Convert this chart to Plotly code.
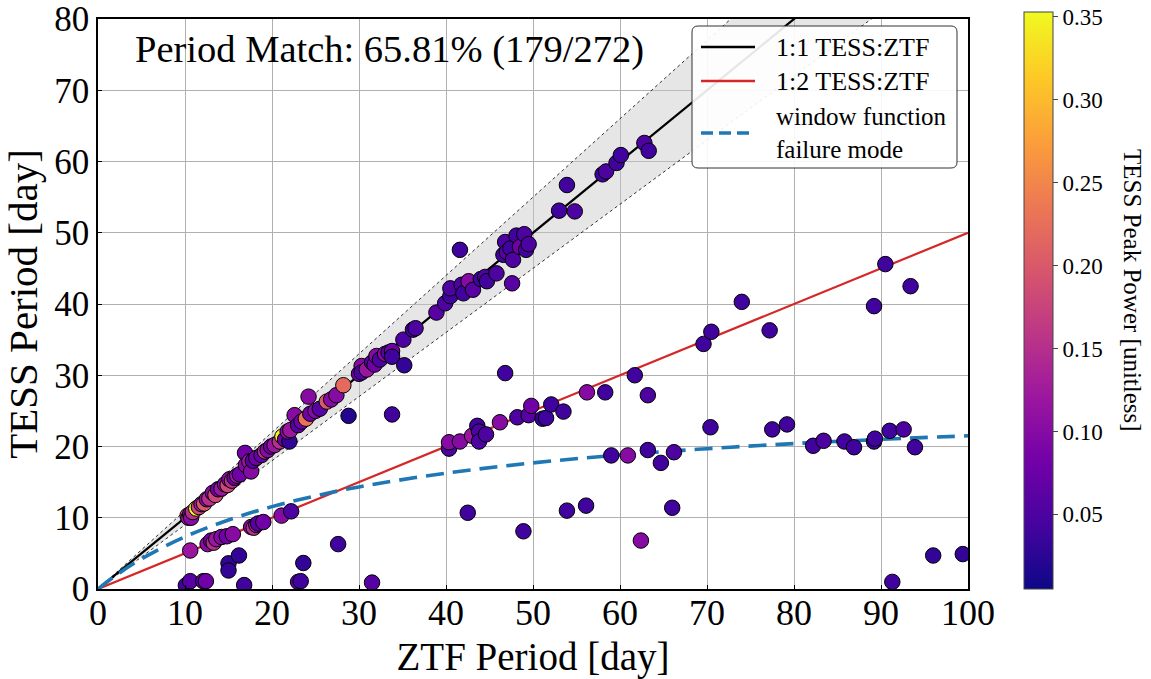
import plotly.graph_objects as go

# ---------------- data ----------------
# points near the 1:1 relation
ztf_11 = [10.3, 10.4, 10.6, 10.7, 10.9, 11.3, 11.6, 11.9, 12.2, 12.5, 12.8, 13.2, 13.5, 13.8, 14.2,
          14.6, 14.9, 15.1, 15.4, 15.7, 16.0, 16.3, 16.9, 17.0, 17.4, 17.6, 17.8, 18.2, 18.8, 19.2,
          19.5, 19.9, 20.3, 20.9, 21.2, 21.5, 22.0, 21.8, 22.1, 22.6, 23.0, 23.4, 23.9, 24.2, 24.4,
          25.0, 25.5, 26.3, 26.8, 27.4, 28.2, 28.8, 30.0, 30.3, 30.3, 30.9, 31.5, 31.8, 32.0, 32.4,
          33.0, 33.4, 33.8, 33.8, 35.1, 35.2, 36.2, 36.5, 38.9, 39.9, 40.5, 40.5, 41.6, 41.8, 42.0,
          42.6, 43.1, 44.0, 44.5, 44.7, 45.8, 46.6, 46.8, 47.0, 47.4, 47.6, 47.7, 48.1, 48.5, 49.0,
          49.2, 49.5, 53.0, 53.9, 54.8, 58.0, 58.4, 59.6, 60.1, 62.8, 63.3]
tess_11 = [10.3, 10.0, 10.5, 10.0, 10.8, 11.3, 11.5, 11.9, 12.0, 12.6, 12.7, 13.5, 13.2, 14.0, 14.1,
           14.7, 14.6, 15.4, 15.2, 15.6, 15.9, 16.1, 19.1, 17.4, 17.9, 16.5, 18.0, 18.4, 18.8, 19.3,
           19.5, 20.0, 20.2, 20.7, 21.4, 21.0, 20.7, 22.1, 22.3, 24.4, 23.0, 23.5, 23.9, 27.0, 24.6,
           25.0, 25.3, 26.3, 26.6, 27.2, 28.6, 24.3, 30.2, 31.3, 30.4, 30.8, 31.8, 31.5, 32.7, 32.2,
           33.0, 33.2, 33.4, 32.6, 35.0, 31.4, 36.4, 36.6, 38.8, 40.1, 41.1, 42.2, 47.6, 42.7, 41.5,
           43.2, 42.0, 43.5, 43.8, 43.2, 44.3, 46.9, 48.7, 47.3, 47.8, 42.9, 46.2, 49.6, 48.0, 49.8,
           47.6, 48.4, 53.1, 56.7, 53.0, 58.2, 58.6, 59.8, 60.9, 62.6, 61.5]
pow_11 = [0.20, 0.12, 0.10, 0.10, 0.15, 0.35, 0.18, 0.12, 0.20, 0.10, 0.15, 0.10, 0.18, 0.08, 0.12,
          0.10, 0.18, 0.10, 0.15, 0.08, 0.12, 0.08, 0.08, 0.10, 0.12, 0.10, 0.06, 0.08, 0.07, 0.15,
          0.10, 0.08, 0.12, 0.15, 0.35, 0.08, 0.03, 0.10, 0.12, 0.10, 0.06, 0.08, 0.23, 0.10, 0.08,
          0.10, 0.06, 0.20, 0.10, 0.10, 0.22, 0.02, 0.08, 0.10, 0.05, 0.12, 0.06, 0.08, 0.10, 0.05,
          0.10, 0.06, 0.08, 0.04, 0.05, 0.03, 0.04, 0.05, 0.06, 0.05, 0.04, 0.05, 0.04, 0.05, 0.04,
          0.10, 0.06, 0.04, 0.05, 0.04, 0.05, 0.04, 0.05, 0.06, 0.04, 0.06, 0.05, 0.04, 0.08, 0.05,
          0.04, 0.05, 0.04, 0.04, 0.05, 0.04, 0.05, 0.04, 0.04, 0.05, 0.04]

# points near the 1:2 relation, the window-function curve, and elsewhere
ztf_other = [10.6, 12.6, 13.0, 13.3, 13.6, 14.2, 14.8, 15.5, 17.6, 17.9, 18.2, 18.4, 19.0, 21.1, 22.2,
             40.35, 40.35, 41.6, 43.0, 43.6, 43.8, 43.8, 44.6, 46.2, 48.2, 49.5, 49.8, 51.1, 51.5, 52.1,
             53.5, 56.2, 58.3, 61.7, 63.2, 69.6, 70.5, 77.2, 74.0, 89.2, 90.5, 93.4, 46.8, 33.8,
             59.0, 60.9, 63.2, 64.7, 66.2, 70.4, 77.5, 79.2, 82.2, 83.4, 85.8, 86.9, 89.2, 89.3, 91.0,
             92.6, 93.9,
             42.5, 48.9, 53.9, 56.1, 62.4, 66.0, 91.3, 96.0, 99.4, 15.0, 15.0, 16.2, 23.6, 27.6, 10.1,
             10.6, 12.1, 12.4, 16.8, 23.0, 23.3, 31.5]
tess_other = [5.4, 6.3, 6.8, 6.5, 7.0, 7.3, 7.4, 7.7, 8.7, 8.6, 9.0, 9.2, 9.4, 10.3, 10.9,
              19.7, 20.6, 20.7, 21.5, 22.9, 22.1, 20.7, 21.7, 23.4, 24.1, 24.4, 25.7, 23.9, 24.0, 25.9,
              24.9, 27.6, 27.6, 30.0, 27.2, 34.4, 36.1, 36.3, 40.3, 39.7, 45.6, 42.5, 30.3, 24.5,
              18.75, 18.75, 19.5, 17.7, 19.2, 22.7, 22.4, 23.1, 20.1, 20.8, 20.7, 19.9, 20.7, 21.1, 22.2,
              22.4, 19.9,
              10.7, 8.1, 11.0, 11.7, 6.8, 11.4, 1.0, 4.7, 4.9, 3.6, 2.6, 4.7, 3.65, 6.3, 0.5,
              1.1, 1.1, 1.1, 0.55, 1.0, 1.1, 0.9]
pow_other = [0.12, 0.10, 0.08, 0.15, 0.12, 0.10, 0.08, 0.10, 0.10, 0.15, 0.12, 0.06, 0.08, 0.10, 0.05,
             0.05, 0.10, 0.10, 0.12, 0.04, 0.05, 0.05, 0.05, 0.10, 0.05, 0.06, 0.08, 0.03, 0.04, 0.04,
             0.04, 0.10, 0.04, 0.04, 0.05, 0.04, 0.04, 0.04, 0.04, 0.04, 0.04, 0.04, 0.04, 0.04,
             0.04, 0.10, 0.04, 0.04, 0.05, 0.04, 0.04, 0.04, 0.04, 0.05, 0.04, 0.04, 0.04, 0.04, 0.04,
             0.05, 0.04,
             0.04, 0.04, 0.04, 0.04, 0.10, 0.04, 0.04, 0.03, 0.03, 0.03, 0.03, 0.03, 0.03, 0.04, 0.04,
             0.06, 0.06, 0.08, 0.04, 0.06, 0.04, 0.06]

ztf_period = ztf_11 + ztf_other
tess_period = tess_11 + tess_other
tess_power = pow_11 + pow_other

# reference relations
line_x = [0, 100]
one_to_one_y = [0, 100]
one_to_two_y = [0, 50]
band_upper_y = [0, 110]
band_lower_y = [0, 90]

# window function failure mode curve
window_x = [0, 2, 5, 10, 15, 20, 25, 30, 40, 50, 60, 70, 80, 90, 100]
window_y = [0, 1.86, 4.23, 7.33, 9.69, 11.56, 13.07, 14.33, 16.26, 17.70, 18.81, 19.69, 20.41, 21.0, 21.5]

x_ticks = [0, 10, 20, 30, 40, 50, 60, 70, 80, 90, 100]
y_ticks = [0, 10, 20, 30, 40, 50, 60, 70, 80]
cbar_ticks = [0.05, 0.10, 0.15, 0.20, 0.25, 0.30, 0.35]
power_min, power_max = 0.005, 0.353

legend_labels = ["1:1 TESS:ZTF", "1:2 TESS:ZTF", "window function<br>failure mode"]

FONT = "Liberation Serif"
BLUE = "#1f77b4"
RED = "#d62728"

# plot-area geometry in px
M_L, M_R, M_T, M_B = 98, 183, 19, 90
PLOT_TOP, PLOT_BOTTOM = M_T, 679 - M_B
PW, PH = 1151.0 - M_L - M_R, float(PLOT_BOTTOM - PLOT_TOP)


def px_x(p):
    return (p - M_L) / PW


def px_y(p):
    return (PLOT_BOTTOM - p) / PH


fig = go.Figure()

# shaded band
fig.add_trace(go.Scatter(
    x=line_x + line_x[::-1], y=band_upper_y + band_lower_y[::-1],
    fill="toself", fillcolor="rgba(200,200,200,0.45)",
    line=dict(color="rgba(0,0,0,0)", width=0), mode="lines",
    showlegend=False, hoverinfo="skip"))
fig.add_trace(go.Scatter(x=line_x, y=band_upper_y, mode="lines",
                         line=dict(color="black", width=0.8, dash="dot"),
                         showlegend=False, hoverinfo="skip"))
fig.add_trace(go.Scatter(x=line_x, y=band_lower_y, mode="lines",
                         line=dict(color="black", width=0.8, dash="dot"),
                         showlegend=False, hoverinfo="skip"))

fig.add_trace(go.Scatter(x=line_x, y=one_to_one_y, mode="lines", showlegend=False,
                         line=dict(color="black", width=2.2), name="1:1 TESS:ZTF"))
fig.add_trace(go.Scatter(x=line_x, y=one_to_two_y, mode="lines", showlegend=False,
                         line=dict(color=RED, width=2.2), name="1:2 TESS:ZTF"))
fig.add_trace(go.Scatter(x=window_x, y=window_y, mode="lines", line_shape="spline",
                         showlegend=False,
                         line=dict(color=BLUE, width=3.6, dash="18px,9px"),
                         name="window function failure mode"))

fig.add_trace(go.Scatter(
    x=ztf_period, y=tess_period, mode="markers", showlegend=False,
    marker=dict(
        size=15.5, color=tess_power, colorscale="Plasma",
        cmin=power_min, cmax=power_max,
        line=dict(color="black", width=1),
        colorbar=dict(
            x=px_x(1024), xanchor="left", y=px_y(300.5), yanchor="middle",
            len=577, lenmode="pixels", ypad=0, xpad=0,
            thickness=29, outlinewidth=1, outlinecolor="#444",
            ticks="outside", ticklen=5, tickcolor="#444",
            tickvals=cbar_ticks, ticktext=[f"{t:.2f}" for t in cbar_ticks],
            tickfont=dict(family=FONT, size=23, color="black"),
        ),
    ),
))

fig.add_annotation(
    text="Period Match: 65.81% (179/272)", xref="paper", yref="paper",
    x=px_x(133), y=px_y(50), xanchor="left", yanchor="middle", showarrow=False,
    font=dict(family=FONT, size=38.5, color="black"))

fig.add_annotation(
    text="TESS Peak Power [unitless]", xref="paper", yref="paper",
    x=px_x(1133), y=px_y(290), xanchor="center", yanchor="middle", textangle=90,
    showarrow=False, font=dict(family=FONT, size=25, color="black"))

# ---- hand-built legend (rounded box) ----
bx0, bx1, by1, by0 = px_x(692), px_x(957), px_y(26), px_y(168)
rx, ry = 6 / PW, 6 / PH
box_path = (f"M {bx0+rx},{by1} L {bx1-rx},{by1} Q {bx1},{by1} {bx1},{by1-ry} "
            f"L {bx1},{by0+ry} Q {bx1},{by0} {bx1-rx},{by0} L {bx0+rx},{by0} "
            f"Q {bx0},{by0} {bx0},{by0+ry} L {bx0},{by1-ry} Q {bx0},{by1} {bx0+rx},{by1} Z")
fig.add_shape(type="path", path=box_path, xref="paper", yref="paper", layer="above",
              fillcolor="rgba(255,255,255,0.9)", line=dict(color="#333", width=1))

sample_x0, sample_x1 = px_x(701), px_x(755)
fig.add_shape(type="line", xref="paper", yref="paper", layer="above",
              x0=sample_x0, x1=sample_x1, y0=px_y(47), y1=px_y(47),
              line=dict(color="black", width=2.4))
fig.add_shape(type="line", xref="paper", yref="paper", layer="above",
              x0=sample_x0, x1=sample_x1, y0=px_y(81), y1=px_y(81),
              line=dict(color=RED, width=2.4))
fig.add_shape(type="line", xref="paper", yref="paper", layer="above",
              x0=sample_x0, x1=sample_x1, y0=px_y(133), y1=px_y(133),
              line=dict(color=BLUE, width=3.6, dash="12px,6px"))

for label, ypx, fs in zip(legend_labels, [47, 81, 133], [26, 26, 25]):
    fig.add_annotation(text=label, xref="paper", yref="paper", x=px_x(774), y=px_y(ypx),
                       xanchor="left", yanchor="middle", align="left", showarrow=False,
                       font=dict(family=FONT, size=fs, color="black"))

axis_common = dict(
    showgrid=True, gridcolor="#b0b0b0", gridwidth=1,
    showline=True, linecolor="black", linewidth=1.5, mirror=True,
    ticks="inside", ticklen=4, tickcolor="black", tickwidth=1,
    ticklabeloverflow="allow",
    zeroline=False,
)

fig.update_layout(
    width=1151, height=679,
    margin=dict(l=M_L, r=M_R, t=M_T, b=M_B, autoexpand=False),
    plot_bgcolor="white", paper_bgcolor="white",
    xaxis=dict(range=[0, 100], tickvals=x_ticks,
               tickfont=dict(family=FONT, size=36, color="black"),
               title=dict(text="ZTF Period [day]", standoff=15,
                          font=dict(family=FONT, size=39, color="black")),
               **axis_common),
    yaxis=dict(range=[0, 80], tickvals=y_ticks,
               tickfont=dict(family=FONT, size=35, color="black"),
               title=dict(text="TESS Period [day]", standoff=4,
                          font=dict(family=FONT, size=41, color="black")),
               **axis_common),
    showlegend=False,
)

try:
    fig.update_xaxes(ticklabelstandoff=-9)
except ValueError:
    pass

fig.write_html("out.html")
